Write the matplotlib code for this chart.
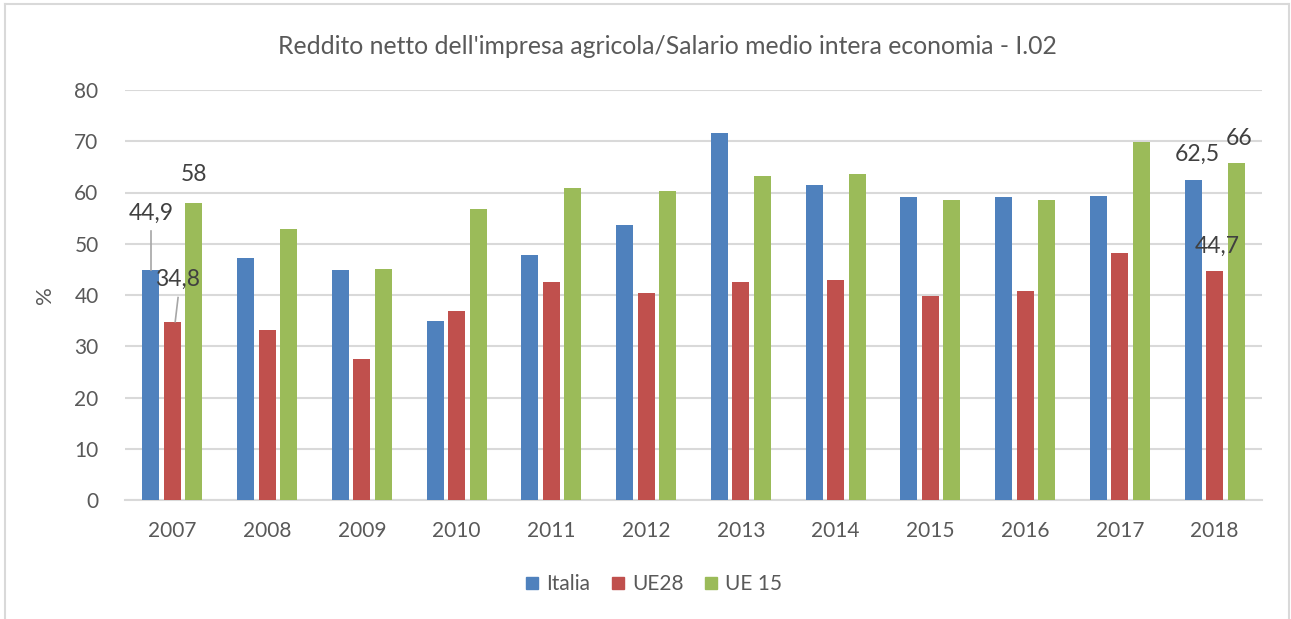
import numpy as np
import matplotlib
matplotlib.use("Agg")
import matplotlib.pyplot as plt
from matplotlib.lines import Line2D

years = ["2007", "2008", "2009", "2010", "2011", "2012",
         "2013", "2014", "2015", "2016", "2017", "2018"]
italia = [44.9, 47.2, 44.8, 34.9, 47.8, 53.7, 71.6, 61.5, 59.1, 59.1, 59.3, 62.5]
ue28 = [34.8, 33.2, 27.5, 36.9, 42.5, 40.4, 42.5, 42.9, 39.8, 40.8, 48.2, 44.7]
ue15 = [58.0, 52.9, 45.0, 56.8, 60.9, 60.3, 63.2, 63.6, 58.5, 58.5, 69.9, 65.8]

series = [
    {"label": "Italia", "values": italia, "color": "#4F81BD"},
    {"label": "UE28", "values": ue28, "color": "#C0504D"},
    {"label": "UE 15", "values": ue15, "color": "#9BBB59"},
]

txt = "#595959"
plt.rcParams['font.family'] = ['Lato', 'DejaVu Sans']

fig = plt.figure(figsize=(12.91, 6.19), dpi=100)
ax = fig.add_axes([125 / 1291, 1 - 500 / 619, 1137 / 1291, 410 / 619])

x = np.arange(len(years))
width = 0.18
pitch = 0.227
for i, s in enumerate(series):
    ax.bar(x + (i - 1) * pitch, s["values"], width=width, color=s["color"],
           label=s["label"], zorder=3)

ax.set_xlim(-0.5, len(years) - 0.5)
ax.set_ylim(0, 80)
ax.set_yticks(range(0, 81, 10))
ax.set_xticks(x)
ax.set_xticklabels(years)
ax.yaxis.grid(True, color="#D9D9D9", linewidth=1.5, zorder=0)
for sp in ["top", "right", "left"]:
    ax.spines[sp].set_visible(False)
ax.spines["bottom"].set_color("#D9D9D9")
ax.spines["bottom"].set_linewidth(1.5)
ax.tick_params(axis="both", length=0, labelsize=15, colors=txt)
ax.tick_params(axis="x", pad=15)
ax.tick_params(axis="y", pad=19)
ax.set_ylabel("%", fontsize=16, color=txt, labelpad=14)

fig.text(667 / 1291, 1 - 47 / 619, "Reddito netto dell'impresa agricola/Salario medio intera economia - I.02",
         ha="center", va="center", fontsize=17.8, color=txt)

# data labels
lab = dict(fontsize=16.5, color="#404040", ha="center", va="center", zorder=5)
ax.text(0 - pitch, 56.0, "44,9", **lab)
ax.plot([0 - pitch, 0 - pitch], [52.5, italia[0]], color="#A6A6A6", lw=1.2, zorder=4)
ax.text(0.05, 43.0, "34,8", **lab)
ax.plot([0.06, 0.03], [39.5, ue28[0]], color="#A6A6A6", lw=1.2, zorder=4)
ax.text(0 + pitch, 63.5, "58", **lab)
ax.text(11 - 0.18, 67.5, "62,5", **lab)
ax.text(11 + 0.03, 49.5, "44,7", **lab)
ax.text(11 + 0.26, 70.5, "66", **lab)

handles = [Line2D([0], [0], marker="s", linestyle="none", markersize=9,
                  markerfacecolor=s["color"], markeredgecolor=s["color"]) for s in series]
fig.legend(handles, [s["label"] for s in series], loc="center",
           bbox_to_anchor=(653 / 1291, 1 - 584 / 619), ncol=3, frameon=False,
           fontsize=15, labelcolor=txt, handlelength=0.8, handletextpad=0.3,
           columnspacing=0.9)

# chart border (bottom edge cut off in the source)
border = dict(color="#D9D9D9", lw=1.5, transform=fig.transFigure)
fig.add_artist(Line2D([5 / 1291, 5 / 1291], [0, 1 - 4 / 619], **border))
fig.add_artist(Line2D([5 / 1291, 1289 / 1291], [1 - 4 / 619, 1 - 4 / 619], **border))
fig.add_artist(Line2D([1289 / 1291, 1289 / 1291], [0, 1 - 4 / 619], **border))

fig.savefig("out.png", dpi=100)
